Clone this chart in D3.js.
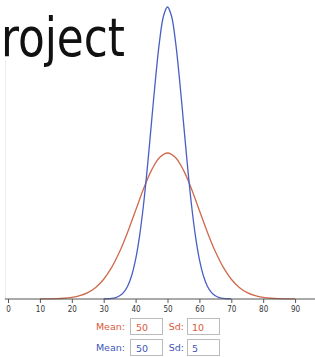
<!DOCTYPE html>
<html>
<head>
<meta charset="utf-8">
<script src="https://cdn.jsdelivr.net/npm/d3@7"></script>
<style>
  body { margin: 0; background: #fff; overflow: hidden; }
  svg { display: block; }
  .title { font-family: "DejaVu Sans Condensed", "Liberation Sans Narrow", sans-serif; font-size: 54px; fill: #111; }
  .axis text { font-family: "DejaVu Sans Condensed", sans-serif; font-size: 8px; fill: #333; }
  .axis path, .axis line { stroke: #555; }
  .lbl { font-family: "DejaVu Sans", sans-serif; font-size: 9.5px; }
  .box { fill: #fff; stroke: #bbb; stroke-width: 1; }
</style>
</head>
<body>
<svg id="chart" width="315" height="357"></svg>
<script>
// x positions of the samples
const redX = [10, 12.5, 15, 17.5, 20, 22.5, 25, 27.5, 30, 32.5, 35, 37.5, 40, 42.5, 45, 47.5, 50,
  52.5, 55, 57.5, 60, 62.5, 65, 67.5, 70, 72.5, 75, 77.5, 80, 82.5, 85, 87.5, 90];
const redY = [0.00001, 0.000035, 0.000087, 0.0002, 0.00044, 0.00091, 0.00175, 0.00317, 0.0054, 0.00863,
  0.01295, 0.01826, 0.0242, 0.03011, 0.03521, 0.03866, 0.03989,
  0.03866, 0.03521, 0.03011, 0.0242, 0.01826, 0.01295, 0.00863, 0.0054, 0.00317, 0.00175, 0.00091,
  0.00044, 0.0002, 0.000087, 0.000035, 0.00001];

const blueX = [30, 31.25, 32.5, 33.75, 35, 36.25, 37.5, 38.75, 40, 41.25, 42.5, 43.75, 45, 46.25, 47.5, 48.75, 50,
  51.25, 52.5, 53.75, 55, 56.25, 57.5, 58.75, 60, 61.25, 62.5, 63.75, 65, 66.25, 67.5, 68.75, 70];
const blueY = [0.00003, 0.00007, 0.000175, 0.0004, 0.00089, 0.00182, 0.0035, 0.00634, 0.0108, 0.01726,
  0.0259, 0.03652, 0.0484, 0.06022, 0.0704, 0.07732, 0.07978,
  0.07732, 0.0704, 0.06022, 0.0484, 0.03652, 0.0259, 0.01726, 0.0108, 0.00634, 0.0035, 0.00182,
  0.00089, 0.0004, 0.000175, 0.00007, 0.00003];

const xTicks = [0, 10, 20, 30, 40, 50, 60, 70, 80, 90];
const seriesNames = ["red", "blue"];
const means = [50, 50];
const sds = [10, 5];

const colors = { red: "#cf6a4b", blue: "#4a5fc4" };
const labelColors = { red: "#d9583c", blue: "#3e56b8" };

const svg = d3.select("#chart");

// 标题 (cropped slide title)
svg.append("text").attr("class", "title")
  .attr("x", 1).attr("y", 56)
  .attr("textLength", 124)
  .attr("lengthAdjust", "spacingAndGlyphs")
  .text("roject");

// faint left border of the embedded chart
svg.append("line")
  .attr("x1", 5.5).attr("x2", 5.5).attr("y1", 60).attr("y2", 299)
  .attr("stroke", "#eee");

const x = d3.scaleLinear().domain([0, 100]).range([8, 327]);
const y = d3.scaleLinear().domain([0, 0.07978]).range([299, 7]);

const line = d3.line()
  .x(d => x(d[0]))
  .y(d => y(d[1]))
  .curve(d3.curveCatmullRom);

// curves
const curves = [
  { name: "red", pts: d3.zip(redX, redY) },
  { name: "blue", pts: d3.zip(blueX, blueY) }
];
svg.selectAll(".curve")
  .data(curves)
  .enter()
  .append("path")
  .attr("class", "curve")
  .attr("fill", "none")
  .attr("stroke", d => colors[d.name])
  .attr("stroke-width", 1.3)
  .attr("d", d => line(d.pts));

// x axis
const axis = svg.append("g")
  .attr("class", "axis")
  .attr("transform", "translate(0,299)")
  .call(d3.axisBottom(x).tickValues(xTicks).tickSize(4).tickSizeOuter(0).tickPadding(3));
axis.select(".domain").attr("d", `M${x(-1)},0H315`);

// Mean / Sd inputs
const rows = svg.selectAll(".row")
  .data(seriesNames)
  .enter()
  .append("g")
  .attr("class", "row")
  .attr("transform", (d, i) => `translate(0,${318 + i * 21})`);

rows.append("text").attr("class", "lbl")
  .attr("x", 125).attr("y", 12).attr("text-anchor", "end")
  .attr("fill", d => labelColors[d])
  .text("Mean:");
rows.append("rect").attr("class", "box")
  .attr("x", 130.5).attr("y", 0.5).attr("width", 32).attr("height", 16);
rows.append("text").attr("class", "lbl")
  .attr("x", 136).attr("y", 13)
  .attr("fill", d => labelColors[d])
  .text((d, i) => means[i]);

rows.append("text").attr("class", "lbl")
  .attr("x", 184).attr("y", 12).attr("text-anchor", "end")
  .attr("fill", d => labelColors[d])
  .text("Sd:");
rows.append("rect").attr("class", "box")
  .attr("x", 187.5).attr("y", 0.5).attr("width", 32).attr("height", 16);
rows.append("text").attr("class", "lbl")
  .attr("x", 192).attr("y", 13)
  .attr("fill", d => labelColors[d])
  .text((d, i) => sds[i]);
</script>
</body>
</html>
